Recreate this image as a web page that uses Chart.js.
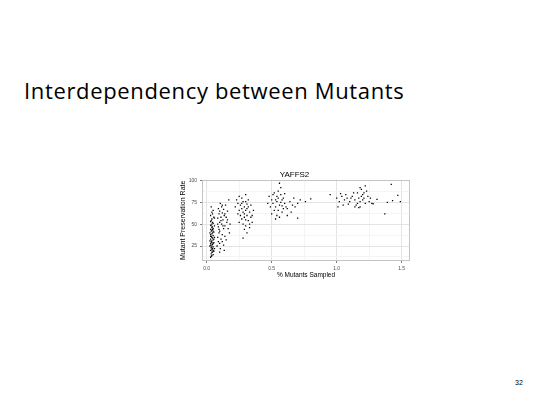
<!DOCTYPE html>
<html>
<head>
<meta charset="utf-8">
<script src="https://cdn.jsdelivr.net/npm/chart.js@4.4.1/dist/chart.umd.min.js"></script>
<style>
  body { margin: 0; width: 540px; height: 405px; background: #fff; position: relative; overflow: hidden; }
  #slideTitle { position: absolute; left: 24px; top: 77px; font-family: "Open Sans"; font-size: 22px; letter-spacing: 0.65px; line-height: 26px; color: #000; white-space: nowrap; }
  #pageNum { position: absolute; left: 515px; top: 379px; font-family: "Liberation Sans"; font-size: 7px; color: #000; }
  #chartBox { position: absolute; left: 179px; top: 170px; width: 235px; height: 109px; }
</style>
</head>
<body>
<div id="slideTitle">Interdependency between Mutants</div>
<div id="chartBox"><canvas id="scatterChart"></canvas></div>
<div id="pageNum">32</div>
<script>
// % mutants sampled / mutant preservation rate, one group per column of points
const group1 = [[0.03,12],[0.04,14],[0.035,16],[0.05,15],[0.045,18],[0.03,20],[0.04,21],[0.055,19],[0.035,23],[0.05,24],
  [0.025,25],[0.04,26],[0.045,27],[0.03,28],[0.055,29],[0.035,30],[0.04,31],[0.05,32],[0.03,33],[0.045,34],
  [0.04,35],[0.035,36],[0.05,37],[0.03,38],[0.04,39],[0.045,40],[0.055,41],[0.035,42],[0.04,43],[0.03,44],
  [0.05,45],[0.04,46],[0.045,47],[0.035,48],[0.03,49],[0.04,50],[0.05,51],[0.045,52],[0.035,54],[0.04,56],
  [0.055,58],[0.03,60],[0.045,62],[0.04,64],[0.05,66],[0.035,70],[0.06,22],[0.06,35],[0.06,48],[0.025,31],
  [0.025,40],[0.03,26],[0.05,28],[0.04,18],[0.055,33],[0.045,44],[0.06,57],[0.03,53],[0.04,24],[0.05,42],
  [0.035,13],[0.045,22],[0.03,36],[0.04,29],[0.05,20]];
const group2 = [[0.08,25],[0.09,30],[0.1,28],[0.085,35],[0.11,33],[0.095,40],[0.12,38],[0.1,42],[0.13,45],[0.09,47],
  [0.115,50],[0.14,48],[0.1,52],[0.125,55],[0.085,57],[0.11,58],[0.135,60],[0.095,62],[0.12,63],[0.15,58],
  [0.1,65],[0.13,67],[0.09,68],[0.115,70],[0.145,72],[0.105,74],[0.17,78],[0.16,65],[0.155,52],[0.165,45],
  [0.175,40],[0.14,36],[0.12,30],[0.105,22],[0.13,26],[0.15,32],[0.095,44],[0.125,48],[0.11,54],[0.14,62],
  [0.085,50],[0.16,55],[0.1,18],[0.135,20],[0.12,72],[0.18,50]];
const group3 = [[0.23,78],[0.25,82],[0.27,80],[0.24,74],[0.26,72],[0.28,76],[0.3,84],[0.29,70],[0.31,73],[0.27,68],
  [0.25,66],[0.32,70],[0.3,66],[0.28,64],[0.33,64],[0.26,60],[0.29,62],[0.31,60],[0.34,58],[0.27,56],
  [0.3,55],[0.32,54],[0.25,52],[0.28,50],[0.33,50],[0.3,48],[0.29,44],[0.31,40],[0.28,34],[0.35,60],
  [0.36,66],[0.34,72],[0.32,78],[0.24,62],[0.22,70],[0.3,76],[0.35,52],[0.27,74],[0.31,68],[0.29,58],[0.33,46]];
const group4 = [[0.48,82],[0.5,78],[0.52,86],[0.51,74],[0.53,70],[0.55,80],[0.54,76],[0.56,72],[0.57,84],[0.58,78],
  [0.59,68],[0.55,88],[0.57,92],[0.56,97],[0.52,66],[0.5,62],[0.54,60],[0.58,64],[0.6,74],[0.61,70],
  [0.59,80],[0.53,56],[0.56,58],[0.62,60],[0.49,70],[0.51,84],[0.55,66],[0.57,75],[0.6,85],[0.53,78],
  [0.47,74],[0.58,71],[0.64,76],[0.66,72],[0.68,70],[0.7,74],[0.72,78],[0.65,64],[0.7,57],[0.76,76],
  [0.8,79],[0.67,80],[0.62,68],[0.54,82]];
const group5 = [[0.95,84],[1.0,80],[1.02,76],[1.04,82],[1.06,78],[1.05,72],[1.08,80],[1.1,76],[1.07,84],[1.12,82],
  [1.14,78],[1.15,72],[1.16,86],[1.17,80],[1.18,76],[1.19,90],[1.2,84],[1.21,80],[1.22,74],[1.23,88],
  [1.18,70],[1.17,69],[1.2,78],[1.25,76],[1.27,74],[1.24,82],[1.22,94],[1.13,86],[1.09,73],[1.01,70],
  [1.19,82],[1.16,74],[1.21,86],[1.03,85],[1.11,80],[1.26,80],[1.18,92],[1.14,70]];
const group6 = [[1.28,73.5],[1.31,78.5],[1.37,62],[1.39,75],[1.42,95.7],[1.43,77],[1.47,83],[1.49,76]];

const xTicks = [0, 0.5, 1, 1.5];
const xTickLabels = ['0.0', '0.5', '1.0', '1.5'];
const xMinor = [0.25, 0.75, 1.25];
const yTicks = [25, 50, 75, 100];
const yTickLabels = ['25', '50', '75', '100'];
const yMinor = [12.5, 37.5, 62.5, 87.5];

const points = [group1, group2, group3, group4, group5, group6].flat().map(p => ({ x: p[0], y: p[1] }));

// ggplot style panel border all round
const panelBorder = {
  id: 'panelBorder',
  afterDatasetsDraw(chart) {
    const a = chart.chartArea, c = chart.ctx;
    c.save();
    c.strokeStyle = '#c4c4c4';
    c.lineWidth = 1;
    c.strokeRect(Math.round(a.left) + 0.5, Math.round(a.top) + 0.5, Math.round(a.width) - 1, Math.round(a.height) - 1);
    c.restore();
  }
};

function axisCfg(major, labels, minor, min, max, titleText) {
  return {
    type: 'linear',
    min: min,
    max: max,
    afterBuildTicks: scale => {
      scale.ticks = major.concat(minor).sort((a, b) => a - b).map(v => ({ value: v }));
    },
    ticks: {
      autoSkip: false,
      maxRotation: 0,
      padding: 3,
      color: '#4d4d4d',
      font: { family: 'Liberation Sans', size: 5 },
      callback: v => {
        const i = major.indexOf(v);
        return i >= 0 ? labels[i] : '';
      }
    },
    grid: {
      color: ctx => major.includes(ctx.tick.value) ? '#e4e4e4' : '#f4f4f4',
      tickColor: ctx => major.includes(ctx.tick.value) ? '#7f7f7f' : 'rgba(0,0,0,0)',
      tickLength: 2,
      lineWidth: 1
    },
    border: { display: false },
    title: {
      display: true,
      text: titleText,
      color: '#000',
      padding: 0,
      font: { family: 'Liberation Sans', size: 6.5 }
    }
  };
}

const xAxis = axisCfg(xTicks, xTickLabels, xMinor, -0.036, 1.564, '% Mutants Sampled');
xAxis.afterFit = scale => { scale.height = 18; };
const yAxis = axisCfg(yTicks, yTickLabels, yMinor, 7.8, 101.2, 'Mutant Preservation Rate');
yAxis.title.font = { family: 'Liberation Sans', size: 7 };
yAxis.afterFit = scale => { scale.width = 23; };

new Chart(document.getElementById('scatterChart'), {
  type: 'scatter',
  data: {
    datasets: [{
      label: 'YAFFS2',
      data: points,
      backgroundColor: '#000',
      borderWidth: 0,
      pointStyle: 'rect',
      pointRadius: 0.9
    }]
  },
  options: {
    responsive: true,
    maintainAspectRatio: false,
    animation: false,
    devicePixelRatio: 1,
    layout: { padding: { top: 0, right: 4, bottom: 0, left: 0 } },
    plugins: {
      legend: { display: false },
      tooltip: { enabled: false },
      title: {
        display: true,
        text: 'YAFFS2',
        color: '#000',
        padding: 0,
        font: { family: 'Liberation Sans', size: 8, weight: 'normal' }
      }
    },
    scales: { x: xAxis, y: yAxis }
  },
  plugins: [panelBorder]
});
</script>
</body>
</html>
